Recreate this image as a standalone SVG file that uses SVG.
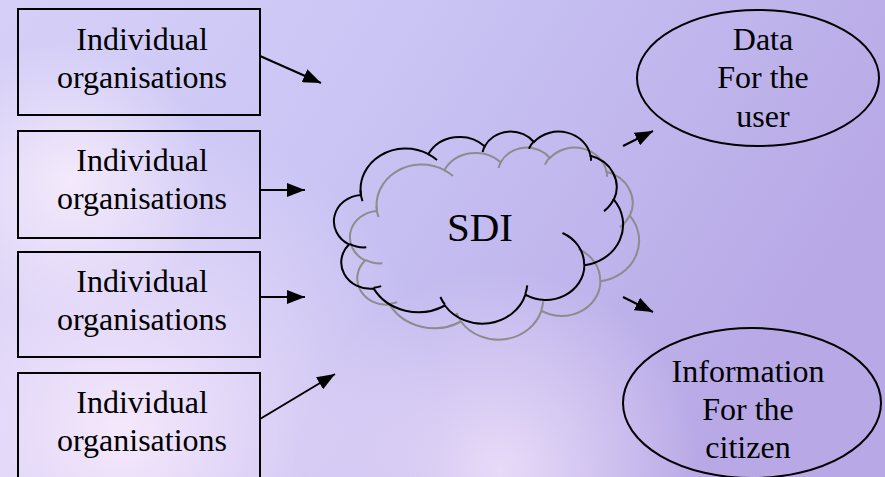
<svg xmlns="http://www.w3.org/2000/svg" width="885" height="477" viewBox="0 0 885 477">
<defs>
<linearGradient id="bg" x1="0" y1="0" x2="1" y2="0.35">
<stop offset="0" stop-color="#d6d0f8"/>
<stop offset="0.45" stop-color="#c9c4f4"/>
<stop offset="1" stop-color="#b8a9e6"/>
</linearGradient>
<radialGradient id="glow1" cx="120" cy="430" r="320" gradientUnits="userSpaceOnUse">
<stop offset="0" stop-color="#f8eafc" stop-opacity="0.95"/>
<stop offset="0.5" stop-color="#f0e2fa" stop-opacity="0.5"/>
<stop offset="1" stop-color="#f0e2fa" stop-opacity="0"/>
</radialGradient>
<radialGradient id="glow2" cx="70" cy="180" r="140" gradientUnits="userSpaceOnUse">
<stop offset="0" stop-color="#fbf0fc" stop-opacity="0.8"/>
<stop offset="1" stop-color="#fbf0fc" stop-opacity="0"/>
</radialGradient>
<radialGradient id="glow3" cx="500" cy="470" r="200" gradientUnits="userSpaceOnUse">
<stop offset="0" stop-color="#f2e4fb" stop-opacity="0.8"/>
<stop offset="1" stop-color="#f2e4fb" stop-opacity="0"/>
</radialGradient>
<marker id="ah" markerUnits="userSpaceOnUse" markerWidth="20" markerHeight="14" refX="18" refY="7" orient="auto">
<path d="M0,0 L18,7 L0,14 Z" fill="#000"/>
</marker>
<g id="cloud">
<path d="M361,194.9 A45.02,40.84 0 0 1 428.4,154.1 A35.55,32.3 0 0 1 484.7,146.2 A29.1,26.42 0 0 1 533.9,142 A32.38,29.31 0 0 1 590.5,155.8 A35.55,32.32 0 0 1 613.8,199.7 A45.17,40.98 0 0 1 584.4,265.2 A38.57,34.96 0 0 1 525.4,294.6 A45.01,40.96 0 0 1 444.9,305.5 A51.47,46.86 0 0 1 373.7,288.6 A29.07,26.3 0 0 1 349.1,244.5 A28.97,26.42 0 0 1 361,194.9 Z"/>
<path d="M366.3,247.3 A28.97,26.42 0 0 1 349.4,243.8 M381.2,286.1 A29.07,26.3 0 0 1 373.8,287.8 M444.9,304.7 A45.01,40.96 0 0 1 440.4,297 M527.2,285.4 A45.01,40.96 0 0 1 525.4,293.9 M562.5,233 A38.57,34.96 0 0 1 584.2,264.7 M613.7,199.2 A35.55,32.32 0 0 1 604,211.1 M590.5,155.1 A32.38,29.31 0 0 1 591,160.7 M528.9,148.6 A32.38,29.31 0 0 1 533.8,141.4 M482.6,152 A29.1,26.42 0 0 1 485,145.8 M428.3,154.1 A45.02,40.84 0 0 1 437,160.1 M362.5,201.2 A45.02,40.84 0 0 1 360.4,190.2"/>
</g>
</defs>
<style>
.box{fill:none;stroke:#000;stroke-width:2}
.ell{fill:none;stroke:#000;stroke-width:2}
.lbl{font-family:"Liberation Serif","Times New Roman",serif;font-size:32px;fill:#000;text-anchor:middle}
.big{font-family:"Liberation Serif","Times New Roman",serif;font-size:41px;fill:#000;text-anchor:middle}
.con{stroke:#000;stroke-width:2;fill:none;marker-end:url(#ah)}
.shadow{fill:none;stroke:#8c8c8c;stroke-width:2}
.outline{fill:none;stroke:#000;stroke-width:2}
</style>
<rect width="885" height="477" fill="url(#bg)"/>
<rect width="885" height="477" fill="url(#glow1)"/>
<rect width="885" height="477" fill="url(#glow2)"/>
<rect width="885" height="477" fill="url(#glow3)"/>

<g id="org1">
<rect class="box" x="18" y="9" width="242" height="106"/>
<text class="lbl" x="142" y="50">Individual</text>
<text class="lbl" x="142" y="88">organisations</text>
</g>
<g id="org2">
<rect class="box" x="18" y="131" width="242" height="107"/>
<text class="lbl" x="142" y="171">Individual</text>
<text class="lbl" x="142" y="209">organisations</text>
</g>
<g id="org3">
<rect class="box" x="18" y="252" width="242" height="105"/>
<text class="lbl" x="142" y="292">Individual</text>
<text class="lbl" x="142" y="330">organisations</text>
</g>
<g id="org4">
<rect class="box" x="18" y="373" width="242" height="110"/>
<text class="lbl" x="142" y="413">Individual</text>
<text class="lbl" x="142" y="451">organisations</text>
</g>

<g id="sdi">
<use href="#cloud" class="shadow" transform="translate(16,16)"/>
<use href="#cloud" class="outline"/>
<text class="big" x="480" y="241">SDI</text>
</g>

<g id="data">
<ellipse class="ell" cx="758" cy="78" rx="121" ry="68"/>
<text class="lbl" x="763" y="50">Data</text>
<text class="lbl" x="763" y="88">For the</text>
<text class="lbl" x="763" y="127">user</text>
</g>
<g id="info">
<ellipse class="ell" cx="752" cy="403" rx="129" ry="75"/>
<text class="lbl" x="748" y="382">Information</text>
<text class="lbl" x="748" y="420">For the</text>
<text class="lbl" x="748" y="458">citizen</text>
</g>

<g id="connectors">
<line class="con" x1="260" y1="56" x2="321" y2="83"/>
<line class="con" x1="260" y1="190" x2="305" y2="190"/>
<line class="con" x1="260" y1="297" x2="305" y2="297"/>
<line class="con" x1="260" y1="419" x2="335" y2="374"/>
<line class="con" x1="623" y1="146" x2="653" y2="131"/>
<line class="con" x1="623" y1="297" x2="653" y2="312"/>
</g>
</svg>
